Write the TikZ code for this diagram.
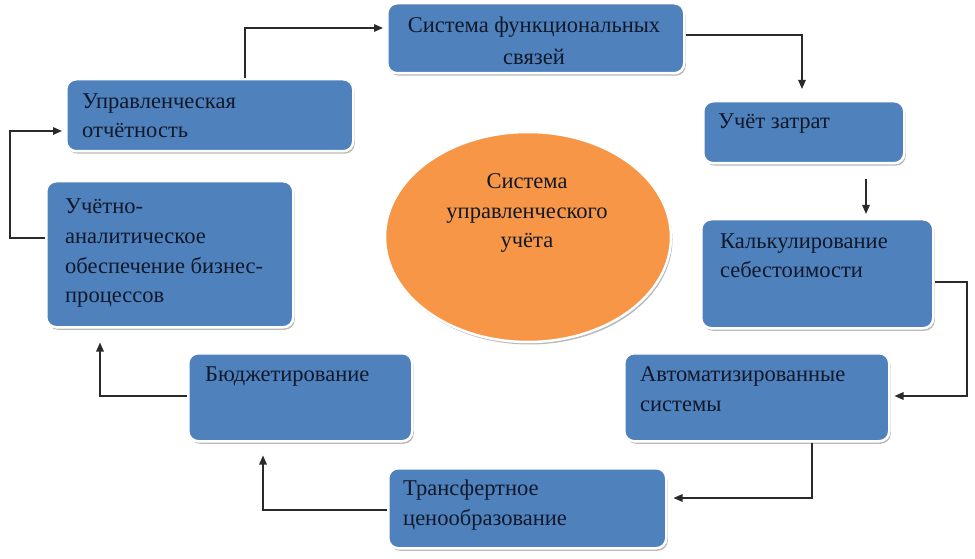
\documentclass[tikz,border=0pt]{standalone}
\usepackage{fontspec}
\setmainfont{Liberation Serif}
\usetikzlibrary{shadows,arrows.meta,shapes.geometric}
\definecolor{boxblue}{HTML}{4F81BD}
\definecolor{ellor}{HTML}{F79646}
\definecolor{txt}{HTML}{10182A}
\definecolor{ln}{HTML}{2A2A2A}
\tikzset{
 box/.style={draw=white, line width=2.5bp, fill=boxblue, rounded corners=10bp,
   drop shadow={shadow xshift=1.5bp, shadow yshift=-2.5bp, fill=black!45, opacity=0.6},
   inner sep=0, anchor=north west},
 lbl/.style={text=txt, font=\fontsize{22.6}{30}\selectfont, inner sep=0, align=left, anchor=base west},
 clbl/.style={lbl, align=center, anchor=base},
 arr/.style={draw=ln, line width=1.4bp, -{Triangle[length=9bp,width=7.5bp]}},
}
\begin{document}
\begin{tikzpicture}[x=1bp,y=-1bp]
\useasboundingbox (0,0) rectangle (975,559);
% boxes
\node[box, minimum width=297bp, minimum height=70bp] (sys) at (386,2) {};
\node[box, minimum width=201bp, minimum height=62bp] (zat) at (702,100) {};
\node[box, minimum width=232bp, minimum height=109bp] (kal) at (700,218) {};
\node[box, minimum width=265bp, minimum height=88bp] (avt) at (623,352) {};
\node[box, minimum width=278bp, minimum height=80bp] (tra) at (387,467) {};
\node[box, minimum width=224bp, minimum height=88bp] (bud) at (187,352) {};
\node[box, minimum width=247bp, minimum height=146bp] (uch) at (45,180) {};
\node[box, minimum width=287bp, minimum height=72bp] (upr) at (65,78) {};
\node[ellipse, draw=white, line width=2.5bp, fill=ellor, minimum width=286bp, minimum height=210bp,
   drop shadow={shadow xshift=1.5bp, shadow yshift=-2.5bp, fill=black!45, opacity=0.6}] (ell) at (528,237) {};
% labels (anchor = baseline of the last line)
\node[clbl] (tsys) at (534,65) {Система функциональных\\[3bp]связей};
\node[lbl] (tzat) at (718,129) {Учёт затрат};
\node[lbl] (tkal) at (720,278) {Калькулирование\\себестоимости};
\node[lbl] (tavt) at (640,411) {Автоматизированные\\системы};
\node[lbl] (ttra) at (403,525) {Трансфертное\\ценообразование};
\node[lbl] (tbud) at (205,382) {Бюджетирование};
\node[lbl] (tuch) at (65,303) {Учётно-\\аналитическое\\обеспечение бизнес-\\процессов};
\node[lbl] (tupr) at (82,138) {Управленческая\\отчётность};
\node[clbl] (tell) at (527,248) {Система\\управленческого\\учёта};
% connectors
\coordinate (b1) at (245,28);
\draw[arr, shorten >=3bp] (upr.north -| b1) -- (b1) -- (sys.west |- b1);
\coordinate (b2) at (802,35);
\draw[arr, shorten >=11bp] (sys.east |- b2) -- (b2) -- (zat.north -| b2);
\coordinate (b3) at (866,177);
\draw[arr, shorten <=15bp, shorten >=4bp] (zat.south -| b3) -- (kal.north -| b3);
\coordinate (b4) at (967,282);
\coordinate (b4b) at (967,396);
\draw[arr, shorten >=4bp] (kal.east |- b4) -- (b4) -- (b4b) -- (avt.east |- b4b);
\coordinate (b5) at (812,498);
\draw[arr, shorten >=6bp] (avt.south -| b5) -- (b5) -- (tra.east |- b5);
\coordinate (b6) at (263,510);
\draw[arr, shorten >=13bp] (tra.west |- b6) -- (b6) -- (bud.south -| b6);
\coordinate (b7) at (100,396);
\draw[arr, shorten >=14bp] (bud.west |- b7) -- (b7) -- (uch.south -| b7);
\coordinate (b8) at (10,238);
\coordinate (b8b) at (10,131);
\draw[arr, shorten >=3bp] (uch.west |- b8) -- (b8) -- (b8b) -- (upr.west |- b8b);
\end{tikzpicture}
\end{document}
